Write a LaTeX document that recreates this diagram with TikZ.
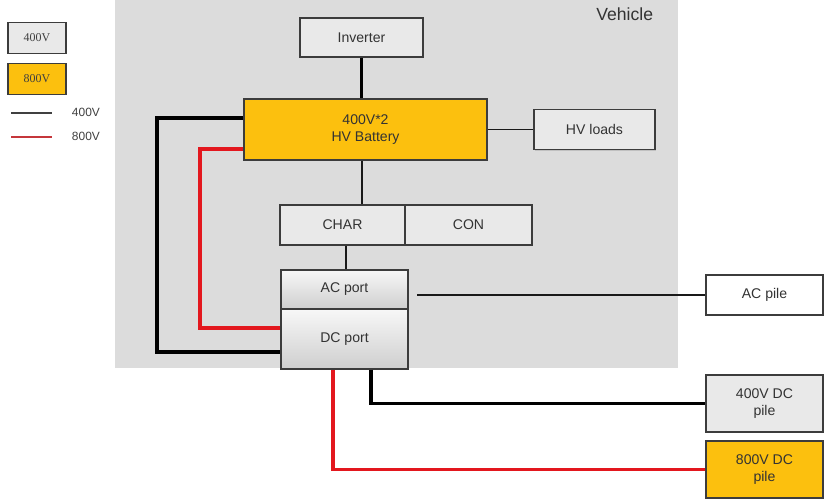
\documentclass[tikz,border=0pt]{standalone}
\usepackage{fontspec}
\setmainfont{Liberation Sans}
\newfontfamily\legfont{Liberation Serif}
\usetikzlibrary{shadows}
\definecolor{vehgray}{HTML}{DCDCDC}
\definecolor{boxgray}{HTML}{E9E9E9}
\definecolor{hvorange}{HTML}{FCC00E}
\definecolor{hvred}{HTML}{E3171E}
\definecolor{edgegray}{HTML}{3C3C3C}
\begin{document}
\begin{tikzpicture}[x=0.025cm,y=-0.025cm,
  blk/.style={draw=edgegray,line width=0.9pt,fill=boxgray,align=center,inner sep=0pt,
    text=black!80,font=\fontsize{10}{12}\selectfont,
    drop shadow={shadow xshift=0.8pt,shadow yshift=-0.8pt,opacity=0.3}},
  port/.style={blk,top color=gray!6,bottom color=gray!38,minimum width=3.175cm},
  legbox/.style={draw=edgegray,line width=0.9pt,fill=boxgray,inner sep=0pt,
    minimum width=1.45cm,minimum height=0.775cm,text=black!75,font=\legfont\fontsize{8.5}{10}\selectfont},
  wire4/.style={line width=2.6pt,black},
  wire8/.style={line width=2.6pt,hvred},
  link/.style={line width=1.3pt,black!90},
  legline/.style={line width=1pt}]
  \useasboundingbox (0,0) rectangle (825,501);
  \fill[vehgray] (115,0) rectangle (678,368);
  \node[anchor=north east,text=black!80,font=\fontsize{12.5}{14}\selectfont] (veh) at (658,3) {Vehicle};

  \node[legbox] (l400) at (37,38) {400V};
  \node[legbox,fill=hvorange] (l800) at (37,79) {800V};
  \coordinate (k4a) at (11,113);
  \coordinate (k4b) at (52,113);
  \coordinate (k8a) at (11,137);
  \coordinate (k8b) at (52,137);
  \draw[legline,black!75] (k4a) -- (k4b);
  \draw[legline,hvred!70!gray] (k8a) -- (k8b);
  \node[anchor=west,text=black!75,font=\fontsize{8.5}{10}\selectfont] (k4t) at (67,112) {400V};
  \node[anchor=west,text=black!75,font=\fontsize{8.5}{10}\selectfont] (k8t) at (67,136) {800V};

  \node[blk,minimum width=3.075cm,minimum height=0.975cm] (inv) at (361.5,37.5) {Inverter};
  \node[blk,fill=hvorange,minimum width=6.075cm,minimum height=1.525cm] (bat) at (365.5,129.5) {400V*2\\HV Battery};
  \node[blk,minimum width=3.025cm,minimum height=1cm] (hvl) at (594.5,129.5) {HV loads};
  \node[blk,minimum width=3.125cm,minimum height=1cm] (char) at (342.5,225) {CHAR};
  \node[blk,minimum width=3.175cm,minimum height=1cm] (con) at (468.5,225) {CON};
  \node[port,minimum height=0.975cm] (ac) at (344.5,289.5) {AC port};
  \node[port,minimum height=1.5cm] (dc) at (344.5,339) {DC port};
  \node[blk,fill=white,minimum width=2.925cm,minimum height=1cm] (acpile) at (764.5,295) {AC pile};
  \node[blk,minimum width=2.925cm,minimum height=1.425cm] (p400) at (764.5,403.5) {400V DC\\pile};
  \node[blk,fill=hvorange,minimum width=2.925cm,minimum height=1.425cm] (p800) at (764.5,469.5) {800V DC\\pile};

  \draw[wire4] (inv.south) -- (inv.south |- bat.north);
  \draw[link] (bat.east) -- (hvl.west);
  \draw[link] (bat.south -| 362,0) -- (char.north -| 362,0);
  \draw[link] (char.south -| 346,0) -- (ac.north -| 346,0);
  \draw[link] (acpile.west -| 417,0) -- (acpile.west);
  \draw[wire4] (bat.west |- 0,118) -| (157,352) -- (dc.west |- 0,352);
  \draw[wire8] (bat.west |- 0,149) -| (200,328) -- (dc.west |- 0,328);
  \draw[wire4] (dc.south -| 371,0) |- (p400.west);
  \draw[wire8] (dc.south -| 333,0) |- (p800.west);
\end{tikzpicture}
\end{document}
